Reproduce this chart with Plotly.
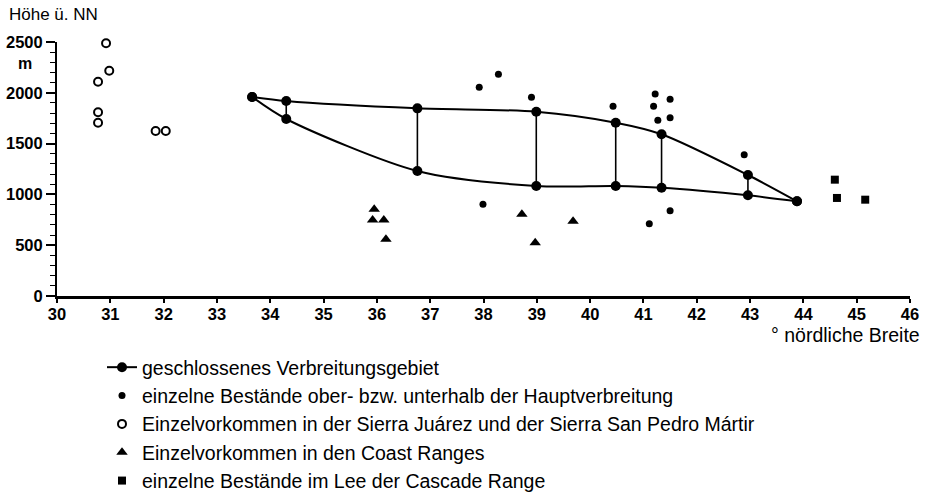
import plotly.graph_objects as go

# ---- data (latitude in degrees N, altitude in m) ----
main_lat = [33.66, 34.30, 36.76, 38.99, 40.48, 41.34, 42.96, 43.88]
main_upper = [1959, 1919, 1847, 1814, 1706, 1592, 1191, 932]
main_lower = [1959, 1742, 1230, 1083, 1083, 1066, 991, 932]

stand_lat = [37.92, 38.28, 38.90, 37.99, 40.43, 41.22, 41.19, 41.27, 41.50, 41.50, 42.89, 41.50, 41.11]
stand_alt = [2054, 2182, 1956, 903, 1867, 1988, 1867, 1729, 1936, 1755, 1391, 840, 712]

sierra_lat = [30.92, 30.98, 30.77, 30.77, 30.77, 31.85, 32.04]
sierra_alt = [2487, 2217, 2109, 1808, 1706, 1624, 1624]

coast_lat = [35.95, 35.92, 36.13, 36.17, 38.72, 38.97, 39.68]
coast_alt = [853, 748, 748, 558, 804, 525, 735]

cascade_lat = [44.59, 44.63, 45.16]
cascade_alt = [1145, 965, 948]

x_ticks = list(range(30, 47))
y_ticks = [0, 500, 1000, 1500, 2000, 2500]

names = [
    "geschlossenes Verbreitungsgebiet",
    "einzelne Bestände ober- bzw. unterhalb der Hauptverbreitung",
    "Einzelvorkommen in der Sierra Juárez und der Sierra San Pedro Mártir",
    "Einzelvorkommen in den Coast Ranges",
    "einzelne Bestände im Lee der Cascade Range",
]

# ---- layout geometry ----
W, H = 931, 492
ML, MR, MT, MB = 57, 21, 42, 196
PW, PH = W - ML - MR, H - MT - MB


def px_x(p):
    return (p - ML) / PW


def px_y(p):
    return (H - MB - p) / PH


FONT = "Liberation Sans, Arial, Helvetica, sans-serif"
TICKFONT = dict(family="Liberation Sans Narrow, Liberation Sans, Arial", size=16.5,
                color="black", weight="bold")

fig = go.Figure()

# vertical connectors between upper and lower limits
vx, vy = [], []
for i in range(1, len(main_lat) - 1):
    vx += [main_lat[i], main_lat[i], None]
    vy += [main_upper[i], main_lower[i], None]
fig.add_trace(go.Scatter(x=vx, y=vy, mode="lines", line=dict(color="black", width=1.6),
                         showlegend=False, hoverinfo="skip"))

fig.add_trace(go.Scatter(x=main_lat, y=main_lower, mode="lines+markers",
                         line=dict(color="black", width=2, shape="spline", smoothing=0.8),
                         marker=dict(color="black", size=10),
                         showlegend=False))
fig.add_trace(go.Scatter(x=main_lat, y=main_upper, mode="lines+markers", name=names[0],
                         legendgroup="a",
                         line=dict(color="black", width=2, shape="spline", smoothing=0.8),
                         marker=dict(color="black", size=10)))

fig.add_trace(go.Scatter(x=stand_lat, y=stand_alt, mode="markers", name=names[1],
                         legendgroup="b", marker=dict(color="black", size=7)))
fig.add_trace(go.Scatter(x=sierra_lat, y=sierra_alt, mode="markers", name=names[2],
                         legendgroup="c", cliponaxis=False,
                         marker=dict(symbol="circle-open", color="black", size=8,
                                     line=dict(width=2, color="black"))))
fig.add_trace(go.Scatter(x=coast_lat, y=coast_alt, mode="markers", name=names[3],
                         legendgroup="d",
                         marker=dict(symbol="triangle-up", color="black", size=10)))
fig.add_trace(go.Scatter(x=cascade_lat, y=cascade_alt, mode="markers", name=names[4],
                         legendgroup="e",
                         marker=dict(symbol="square", color="black", size=8)))

fig.update_layout(
    width=W, height=H,
    margin=dict(l=ML, r=MR, t=MT, b=MB, autoexpand=False),
    paper_bgcolor="white", plot_bgcolor="white",
    font=dict(family=FONT, color="black"),
    showlegend=True,
    legend=dict(x=px_x(102), y=px_y(348), xanchor="left", yanchor="top",
                font=dict(family=FONT, size=19.5, color="black"),
                tracegroupgap=0, bgcolor="rgba(0,0,0,0)", itemwidth=30),
    xaxis=dict(range=[30, 46], tickvals=x_ticks, ticktext=[str(t) for t in x_ticks],
               showline=True, linecolor="black", linewidth=2.5,
               ticks="outside", ticklen=4, tickwidth=1.5, tickcolor="black",
               ticklabelstandoff=-3,
               tickfont=TICKFONT, showgrid=False, zeroline=False, fixedrange=True),
    yaxis=dict(range=[0, 2500], tickvals=y_ticks, ticktext=[str(t) for t in y_ticks],
               showline=True, linecolor="black", linewidth=2,
               ticks="outside", ticklen=9, tickwidth=1.5, tickcolor="black",
               minor=dict(dtick=100, ticks="outside", ticklen=5, tickwidth=1.2,
                          tickcolor="black", showgrid=False),
               tickfont=TICKFONT, showgrid=False, zeroline=False, fixedrange=True),
    annotations=[
        dict(text="Höhe ü. NN", xref="paper", yref="paper", x=px_x(7), y=px_y(15),
             xanchor="left", yanchor="middle", showarrow=False,
             font=dict(family=FONT, size=17, color="black")),
        dict(text="m", xref="paper", yref="paper", x=px_x(25), y=px_y(64),
             xanchor="center", yanchor="middle", showarrow=False,
             font=dict(family=FONT, size=16, color="black", weight="bold")),
        dict(text="° nördliche Breite", xref="paper", yref="paper", x=px_x(922), y=px_y(335),
             xanchor="right", yanchor="middle", showarrow=False,
             font=dict(family=FONT, size=19.5, color="black")),
    ],
)

fig.write_html("out.html")
